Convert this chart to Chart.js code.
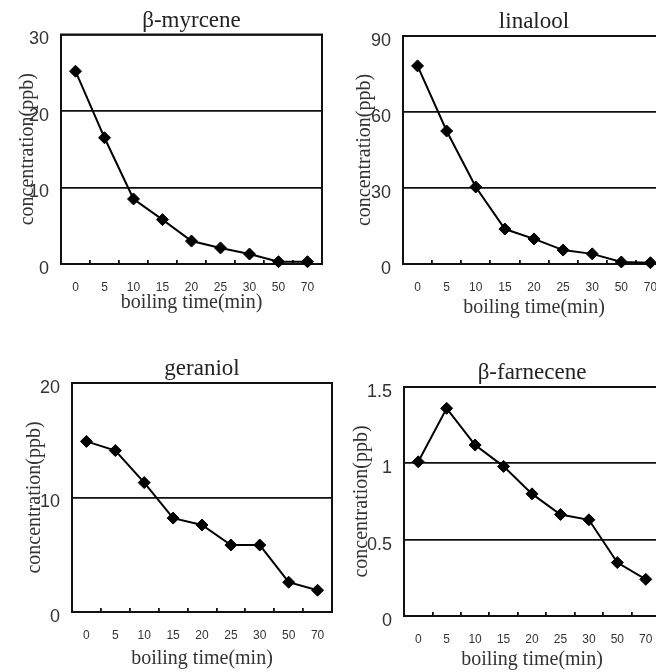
<!DOCTYPE html>
<html>
<head>
<meta charset="utf-8">
<script src="https://cdn.jsdelivr.net/npm/chart.js@4.4.1/dist/chart.umd.min.js"></script>
<style>
  html, body { margin: 0; padding: 0; background: #fff; overflow: hidden; }
  #wrap { position: relative; width: 656px; height: 672px; overflow: hidden; background: #fff; }
  #wrap canvas { position: absolute; }
</style>
</head>
<body>
<div id="wrap">
  <canvas id="c1" width="330" height="320" style="left:0px;top:0px"></canvas>
  <canvas id="c2" width="340" height="320" style="left:330px;top:0px"></canvas>
  <canvas id="c3" width="340" height="342" style="left:0px;top:330px"></canvas>
  <canvas id="c4" width="340" height="342" style="left:330px;top:330px"></canvas>
</div>
<script>
// data
const boilingTimes = ['0', '5', '10', '15', '20', '25', '30', '50', '70'];
const myrcene   = [25.2, 16.5, 8.5, 5.8, 3.0, 2.1, 1.3, 0.3, 0.3];
const linalool  = [78.2, 52.5, 30.4, 13.8, 9.9, 5.5, 4.0, 0.8, 0.5];
const geraniol  = [14.9, 14.1, 11.3, 8.2, 7.6, 5.85, 5.85, 2.6, 1.9];
const farnecene = [1.01, 1.36, 1.12, 0.98, 0.80, 0.665, 0.63, 0.35, 0.24];

const chartTitles = ['β-myrcene', 'linalool', 'geraniol', 'β-farnecene'];
const yMaxes = [30, 90, 20, 1.5];
const ySteps = [10, 30, 10, 0.5];
const xAxisTitle = 'boiling time(min)';
const yAxisTitle = 'concentration(ppb)';

const serif = "'Liberation Serif', 'Times New Roman', serif";
const sans = "'Liberation Sans', Arial, sans-serif";
const titleSize = 23;

// frame around the plot area
const boxPlugin = {
  id: 'plotBox',
  beforeDatasetsDraw(chart) {
    const { ctx, chartArea: a } = chart;
    ctx.save();
    ctx.strokeStyle = '#111';
    ctx.lineWidth = 2;
    ctx.strokeRect(a.left, a.top, a.right - a.left, a.bottom - a.top);
    ctx.restore();
  }
};

// layout of each panel: y-axis width, plot top/bottom, right gap, title paddings
const panels = [
  { id: 'c1', values: myrcene,   yWidth: 61, top: 34.5, bottom: 264, padRight: 8,  yTitlePad: 16.1, xTitlePad: 5 },
  { id: 'c2', values: linalool,  yWidth: 73, top: 36,   bottom: 264, padRight: 5,  yTitlePad: 23.1, xTitlePad: 0 },
  { id: 'c3', values: geraniol,  yWidth: 72, top: 53,   bottom: 282, padRight: 8,  yTitlePad: 23.1, xTitlePad: 1.5 },
  { id: 'c4', values: farnecene, yWidth: 74, top: 57,   bottom: 286, padRight: 10, yTitlePad: 20.1, xTitlePad: 0 }
];

panels.forEach((p, i) => {
  const canvas = document.getElementById(p.id);
  const xHeight = canvas.height - p.bottom;
  new Chart(canvas, {
    type: 'line',
    data: {
      labels: boilingTimes,
      datasets: [{
        label: chartTitles[i],
        data: p.values,
        borderColor: '#000',
        borderWidth: 2,
        tension: 0,
        pointStyle: 'rectRot',
        pointRadius: 6,
        pointBackgroundColor: '#000',
        pointBorderColor: '#000',
        pointBorderWidth: 1,
        clip: false
      }]
    },
    options: {
      responsive: false,
      animation: false,
      layout: { autoPadding: false, padding: { left: 0, top: 0, right: p.padRight, bottom: 0 } },
      plugins: {
        legend: { display: false },
        tooltip: { enabled: false },
        title: {
          display: true,
          text: chartTitles[i],
          fullSize: false,
          color: '#222',
          font: { family: serif, size: titleSize, weight: 'normal', lineHeight: 1.2 },
          padding: { top: p.top - titleSize * 1.2, bottom: 0 }
        }
      },
      scales: {
        x: {
          offset: true,
          afterFit: scale => {
            scale.height = xHeight;
            scale.paddingLeft = 0;
            scale.paddingRight = 0;
          },
          grid: { offset: true, drawOnChartArea: false, tickLength: -4, color: '#111', lineWidth: 1.8 },
          border: { display: true, color: '#111', width: 2 },
          ticks: { color: '#333', font: { family: sans, size: 12 }, padding: 20, maxRotation: 0, autoSkip: false },
          title: {
            display: true,
            text: xAxisTitle,
            color: '#333',
            font: { family: serif, size: 20, lineHeight: 1.2 },
            padding: { top: 0, bottom: p.xTitlePad }
          }
        },
        y: {
          min: 0,
          max: yMaxes[i],
          afterFit: scale => { scale.width = p.yWidth; },
          grid: { drawTicks: false, color: '#111', lineWidth: 1.8 },
          border: { display: true, color: '#111', width: 2 },
          ticks: {
            stepSize: ySteps[i],
            color: '#333',
            font: { family: sans, size: 18 },
            padding: 12,
            labelOffset: 5,
            callback: value => String(+value.toFixed(2))
          },
          title: {
            display: true,
            text: yAxisTitle,
            color: '#333',
            font: { family: serif, size: 20, lineHeight: 1.2 },
            padding: { top: p.yTitlePad - 0.6, bottom: 0 }
          }
        }
      }
    },
    plugins: [boxPlugin]
  });
});
</script>
</body>
</html>
